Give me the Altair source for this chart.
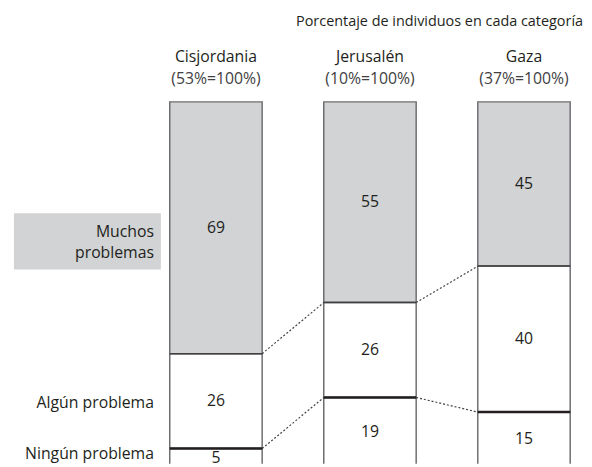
import altair as alt
import pandas as pd

regions = ["Cisjordania", "Jerusalén", "Gaza"]
shares = ["(53%=100%)", "(10%=100%)", "(37%=100%)"]
categories = ["Muchos problemas", "Algún problema", "Ningún problema"]
muchos = [69, 55, 45]
algun = [26, 26, 40]
ningun = [5, 19, 15]
subtitle = "Porcentaje de individuos en cada categoría"

FONT = "Open Sans"
FS = 16
GRAY = "#d1d3d4"
INK = "#231f20"

# segments
rows = []
for i, r in enumerate(regions):
    start = 0
    for c, v in zip(categories, [muchos[i], algun[i], ningun[i]]):
        rows.append(dict(region=r, cat=c, value=v, start=start, end=start + v,
                         mid=start + v / 2, share=shares[i]))
        start += v
seg = pd.DataFrame(rows)

# boundaries between segments
bnd = pd.DataFrame([
    dict(region=r, kind=k, y=(muchos[i] if k == "upper" else muchos[i] + algun[i]))
    for i, r in enumerate(regions) for k in ["upper", "lower"]
])

# dotted connectors between neighbouring bars
con = pd.DataFrame([
    dict(src=regions[i], dst=regions[i + 1],
         y1=(muchos[i] if k == "upper" else muchos[i] + algun[i]),
         y2=(muchos[i + 1] if k == "upper" else muchos[i + 1] + algun[i + 1]))
    for i in range(len(regions) - 1) for k in ["upper", "lower"]
])

heads = pd.DataFrame(dict(region=regions, share=shares))

xs = alt.Scale(domain=regions, range=[164, 570], paddingInner=0.4, paddingOuter=0)
ys = alt.Scale(domain=[0, 100], range=[92, 462], nice=False, zero=False)

X = lambda f, **k: alt.X(f, type="nominal", scale=xs, axis=None, **k)
Y = lambda f: alt.Y(f, type="quantitative", scale=ys, axis=None)

bars = alt.Chart(seg).mark_rect(stroke="#6d6e71", strokeWidth=1.5, clip=True).encode(
    x=X("region"),
    y=Y("start"),
    y2="end",
    fill=alt.Fill("cat:N", scale=alt.Scale(domain=categories, range=[GRAY, "white", "white"]), legend=None),
)

upper = alt.Chart(bnd).transform_filter("datum.kind == 'upper'").mark_rule(
    color="#414042", strokeWidth=1.5).encode(
    x=X("region", bandPosition=0), x2=alt.X2("region", bandPosition=1), y=Y("y"))
lower = alt.Chart(bnd).transform_filter("datum.kind == 'lower'").mark_rule(
    color="#231f20", strokeWidth=2.5).encode(
    x=X("region", bandPosition=0), x2=alt.X2("region", bandPosition=1), y=Y("y"))

conn = alt.Chart(con).mark_rule(color="#414042", strokeWidth=1.2, strokeDash=[2, 2]).encode(
    x=X("src", bandPosition=1), x2=alt.X2("dst", bandPosition=0), y=Y("y1"), y2="y2")

nums = alt.Chart(seg).mark_text(font=FONT, fontSize=FS, color=INK, baseline="middle").encode(
    x=X("region"), y=Y("mid"), text="value:Q")

names = alt.Chart(heads).mark_text(font=FONT, fontSize=FS, color=INK, baseline="middle").encode(
    x=X("region"), y=alt.value(47), text="region:N")
sh = alt.Chart(heads).mark_text(font=FONT, fontSize=FS, color="#414042", baseline="middle").encode(
    x=X("region"), y=alt.value(69), text="share:N")

title = alt.Chart(pd.DataFrame(dict(t=[subtitle]))).mark_text(
    font=FONT, fontSize=14.6, color=INK, align="right", baseline="middle").encode(
    x=alt.value(583), y=alt.value(11), text="t:N")

cis = seg[seg.region == regions[0]]
box = alt.Chart(cis[cis.cat == categories[0]]).mark_rect(color=GRAY).encode(
    x=alt.value(6), x2=alt.value(155), y=alt.value(205), y2=alt.value(262))

m_words = categories[0].split(" ")
lab_m1 = alt.Chart(pd.DataFrame(dict(t=[m_words[0]]))).mark_text(
    font=FONT, fontSize=FS, color=INK, align="right", baseline="middle").encode(
    x=alt.value(148), y=alt.value(224), text="t:N")
lab_m2 = alt.Chart(pd.DataFrame(dict(t=[m_words[1]]))).mark_text(
    font=FONT, fontSize=FS, color=INK, align="right", baseline="middle").encode(
    x=alt.value(148), y=alt.value(245), text="t:N")
lab_a = alt.Chart(cis[cis.cat == categories[1]]).mark_text(
    font=FONT, fontSize=FS, color=INK, align="right", baseline="middle", dy=2).encode(
    x=alt.value(148), y=Y("mid"), text="cat:N")
lab_n = alt.Chart(cis[cis.cat == categories[2]]).mark_text(
    font=FONT, fontSize=FS, color=INK, align="right", baseline="middle", dy=-4).encode(
    x=alt.value(148), y=Y("mid"), text="cat:N")

chart = alt.layer(box, bars, upper, lower, conn, nums, names, sh, title,
                  lab_m1, lab_m2, lab_a, lab_n).properties(
    width=584, height=459, padding=0, autosize="none"
).configure_view(stroke=None)

chart.save("out.html", embed_options={"renderer": "svg", "actions": False})
